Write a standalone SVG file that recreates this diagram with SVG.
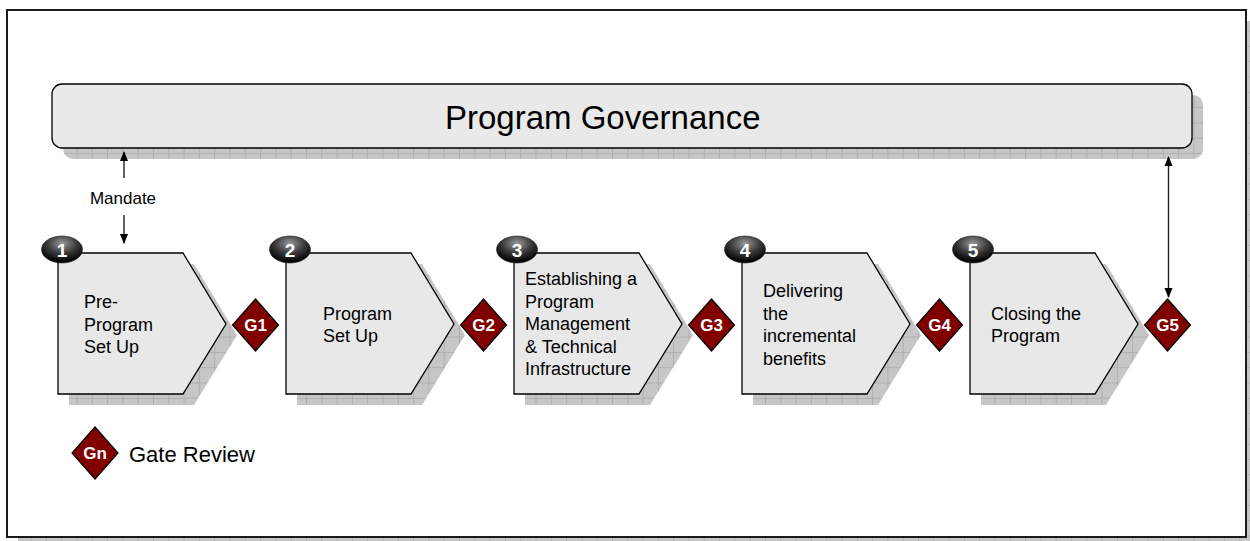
<svg xmlns="http://www.w3.org/2000/svg" width="1250" height="541" viewBox="0 0 1250 541">
<defs>
<pattern id="grid" patternUnits="userSpaceOnUse" width="15.3" height="15.3">
<rect width="15.3" height="15.3" fill="#c6c6c6"/>
<path d="M0 0.5H15.3M0.5 0V15.3" stroke="#a9a9a9" stroke-width="0.8" fill="none"/>
</pattern>
<radialGradient id="ball" cx="50%" cy="28%" r="65%">
<stop offset="0" stop-color="#9a9a9a"/>
<stop offset="0.55" stop-color="#3a3a3a"/>
<stop offset="1" stop-color="#050505"/>
</radialGradient>
<marker id="ah" markerWidth="10" markerHeight="10" refX="9" refY="5" orient="auto" markerUnits="userSpaceOnUse">
<path d="M0,1 L10,5 L0,9 Z" fill="#000"/>
</marker>
</defs>
<style>
.shadow{fill:url(#grid);stroke:none}
.shape{fill:#e8e8e8;stroke:#000;stroke-width:1.3}
.lbl{font-family:"Liberation Sans",Arial,sans-serif;font-size:18px;fill:#000}
.num{font-family:"Liberation Sans",Arial,sans-serif;font-size:19px;font-weight:bold;fill:#fff;text-anchor:middle}
.ball{fill:url(#ball);stroke:#222;stroke-width:0.6}
.gate{fill:#800000;stroke:#000;stroke-width:1.2}
.gt{font-family:"Liberation Sans",Arial,sans-serif;font-size:17px;font-weight:bold;fill:#fff;text-anchor:middle}
.conn{stroke:#222;stroke-width:1.4;fill:none}
</style>
<rect width="1250" height="541" fill="#fff"/>
<g id="frame">
<rect x="18" y="21" width="1239" height="527" class="shadow"/>
<rect x="7" y="10" width="1239" height="527" fill="#fff" stroke="#1a1a1a" stroke-width="2"/>
</g>
<g id="governance">
<rect x="63" y="95" width="1140" height="64" rx="10" class="shadow"/>
<rect x="52" y="84" width="1140" height="64" rx="10" fill="#e9e9e9" stroke="#000" stroke-width="1.3"/>
<text x="445" y="129" style="font-family:'Liberation Sans',Arial,sans-serif;font-size:33px;fill:#000">Program Governance</text>
</g>
<g id="connectors">
<line x1="124" y1="178" x2="124" y2="152" class="conn" marker-end="url(#ah)"/>
<line x1="124" y1="215" x2="124" y2="243" class="conn" marker-end="url(#ah)"/>
<text x="123" y="204" text-anchor="middle" style="font-family:'Liberation Sans',Arial,sans-serif;font-size:17px;fill:#000">Mandate</text>
<line x1="1168.5" y1="226" x2="1168.5" y2="157" class="conn" marker-end="url(#ah)"/>
<line x1="1168.5" y1="226" x2="1168.5" y2="297" class="conn" marker-end="url(#ah)"/>
</g>
<g id="step1">
<polygon points="69,264 194,264 237,335 194,405 69,405" class="shadow"/>
<polygon points="58,253 183,253 226,324 183,394 58,394" class="shape"/>
<ellipse cx="62" cy="249.5" rx="20.5" ry="13.5" class="ball"/>
<text x="62" y="256.5" class="num">1</text>
<text class="lbl"><tspan x="84" y="308">Pre-</tspan><tspan x="84" y="330.5">Program</tspan><tspan x="84" y="353">Set Up</tspan></text>
</g>
<g id="step2">
<polygon points="297,264 422,264 465,335 422,405 297,405" class="shadow"/>
<polygon points="286,253 411,253 454,324 411,394 286,394" class="shape"/>
<ellipse cx="290" cy="249.5" rx="20.5" ry="13.5" class="ball"/>
<text x="290" y="256.5" class="num">2</text>
<text class="lbl"><tspan x="323" y="319.5">Program</tspan><tspan x="323" y="342">Set Up</tspan></text>
</g>
<g id="step3">
<polygon points="525,264 650,264 693,335 650,405 525,405" class="shadow"/>
<polygon points="514,253 639,253 682,324 639,394 514,394" class="shape"/>
<ellipse cx="517" cy="249.5" rx="20.5" ry="13.5" class="ball"/>
<text x="517" y="256.5" class="num">3</text>
<text class="lbl"><tspan x="525" y="285">Establishing a</tspan><tspan x="525" y="307.5">Program</tspan><tspan x="525" y="330">Management</tspan><tspan x="525" y="352.5">&amp; Technical</tspan><tspan x="525" y="375">Infrastructure</tspan></text>
</g>
<g id="step4">
<polygon points="753,264 878,264 921,335 878,405 753,405" class="shadow"/>
<polygon points="742,253 867,253 910,324 867,394 742,394" class="shape"/>
<ellipse cx="745" cy="249.5" rx="20.5" ry="13.5" class="ball"/>
<text x="745" y="256.5" class="num">4</text>
<text class="lbl"><tspan x="763" y="297">Delivering</tspan><tspan x="763" y="319.5">the</tspan><tspan x="763" y="342">incremental</tspan><tspan x="763" y="364.5">benefits</tspan></text>
</g>
<g id="step5">
<polygon points="981,264 1106,264 1149,335 1106,405 981,405" class="shadow"/>
<polygon points="970,253 1095,253 1138,324 1095,394 970,394" class="shape"/>
<ellipse cx="973" cy="249.5" rx="20.5" ry="13.5" class="ball"/>
<text x="973" y="256.5" class="num">5</text>
<text class="lbl"><tspan x="991" y="319.5">Closing the</tspan><tspan x="991" y="342">Program</tspan></text>
</g>
<g id="gate1"><polygon points="255.5,299 278.5,325 255.5,351 232.5,325" class="gate"/><text x="255.5" y="331" class="gt">G1</text></g>
<g id="gate2"><polygon points="483.5,299 506.5,325 483.5,351 460.5,325" class="gate"/><text x="483.5" y="331" class="gt">G2</text></g>
<g id="gate3"><polygon points="711.5,299 734.5,325 711.5,351 688.5,325" class="gate"/><text x="711.5" y="331" class="gt">G3</text></g>
<g id="gate4"><polygon points="939.5,299 962.5,325 939.5,351 916.5,325" class="gate"/><text x="939.5" y="331" class="gt">G4</text></g>
<g id="gate5"><polygon points="1167.5,299 1190.5,325 1167.5,351 1144.5,325" class="gate"/><text x="1167.5" y="331" class="gt">G5</text></g>
<g id="legend">
<polygon points="95,427 118,453 95,479 72,453" class="gate"/>
<text x="95" y="459" class="gt">Gn</text>
<text x="129" y="462" style="font-family:'Liberation Sans',Arial,sans-serif;font-size:22px;fill:#000">Gate Review</text>
</g>
</svg>
